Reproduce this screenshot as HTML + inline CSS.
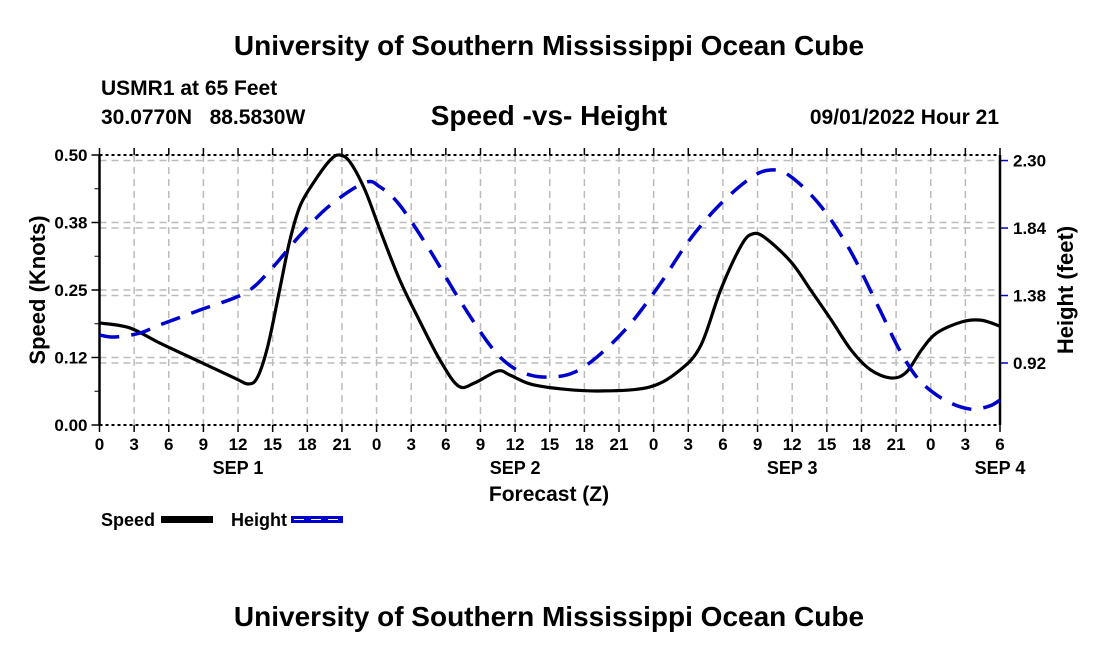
<!DOCTYPE html>
<html><head><meta charset="utf-8">
<style>
body{margin:0;background:#fff;width:1100px;height:650px;overflow:hidden;font-family:"Liberation Sans",Arial,sans-serif;}
svg text{font-family:"Liberation Sans",Arial,sans-serif;font-weight:bold;fill:#000;}
</style></head><body>
<svg id="chart" width="1100" height="650" xmlns="http://www.w3.org/2000/svg">
<text x="549" y="55" font-size="28" text-anchor="middle">University of Southern Mississippi Ocean Cube</text>
<text x="101" y="95" font-size="21">USMR1 at 65 Feet</text>
<text x="101" y="124" font-size="21">30.0770N&#160;&#160;&#160;88.5830W</text>
<text x="549" y="125" font-size="28" text-anchor="middle">Speed -vs- Height</text>
<text x="999" y="124" font-size="21" text-anchor="end">09/01/2022 Hour 21</text>
<g id="grid"></g>
<g id="axes"></g>
<g id="series"></g>
<text transform="translate(45,290) rotate(-90)" font-size="22" text-anchor="middle">Speed (Knots)</text>
<text transform="translate(1073,290) rotate(-90)" font-size="22" text-anchor="middle">Height (feet)</text>
<text x="549" y="501" font-size="21" text-anchor="middle">Forecast (Z)</text>
<g>
<text x="101" y="526" font-size="18">Speed</text>
<rect x="161" y="516" width="52" height="7" fill="#000"/>
</g>
<g>
<text x="231" y="526" font-size="18">Height</text>
<rect x="291" y="516" width="52" height="7" fill="#0000cc"/>
<line x1="291" y1="519.5" x2="343" y2="519.5" stroke="#fff" stroke-width="1" stroke-dasharray="10,7" stroke-dashoffset="-3"/>
</g>
<text x="549" y="626" font-size="28" text-anchor="middle">University of Southern Mississippi Ocean Cube</text>
</svg>
<script>
const speedHours=[0,2.6,5.2,8.7,11.7,12.9,13.7,14.6,15.6,16.5,17.4,18.7,20.0,20.8,21.7,23.0,24.3,26.0,27.7,29.5,31.1,32.5,34.5,35.5,37.3,39.9,43.3,47.6,50.3,52.1,53.8,55.6,56.6,57.7,59.9,61.6,63.4,65.1,66.8,68.6,69.9,71.2,72.5,74.7,76.4,78.0];
const speedValues=[0.189,0.180,0.152,0.117,0.087,0.076,0.089,0.148,0.250,0.343,0.407,0.454,0.491,0.500,0.487,0.435,0.361,0.269,0.194,0.120,0.072,0.078,0.100,0.093,0.076,0.067,0.063,0.070,0.102,0.148,0.250,0.333,0.354,0.346,0.302,0.250,0.194,0.139,0.102,0.087,0.098,0.139,0.170,0.191,0.194,0.183];
const heightHours=[0,1.3,3.5,5.2,8.7,12.6,14.8,17.4,20.0,23.0,24.3,26.0,28.6,31.2,33.8,35.5,37.3,39.3,41.2,43.3,45.9,48.5,51.1,53.7,56.4,58.1,59.8,62.4,65.0,67.6,69.3,71.0,73.2,75.4,77.1,78.0];
const heightValues=[1.111,1.097,1.124,1.179,1.281,1.397,1.554,1.793,1.997,2.150,2.120,1.997,1.690,1.349,1.043,0.906,0.838,0.825,0.859,0.975,1.179,1.452,1.758,1.997,2.181,2.236,2.195,1.997,1.690,1.281,1.009,0.804,0.668,0.606,0.627,0.668];
const xTickLabels=["0","3","6","9","12","15","18","21","0","3","6","9","12","15","18","21","0","3","6","9","12","15","18","21","0","3","6"];
const dayLabels=["SEP 1","SEP 2","SEP 3","SEP 4"];
const dayHours=[12,36,60,78];
const leftTicks=[0,0.125,0.25,0.375,0.5];
const leftTickLabels=["0.00","0.12","0.25","0.38","0.50"];
const rightTicks=[0.92,1.38,1.84,2.30];
const rightTickLabels=["0.92","1.38","1.84","2.30"];

const X0=99.5,X1=1000,YT=155,YB=425;
const xs=h=>X0+h*(X1-X0)/78;
const ys=v=>YB-v*(YB-YT)/0.5;
const yh=v=>363-(v-0.92)*146.7;
const NS="http://www.w3.org/2000/svg";
function mk(tag,attrs,parent){const e=document.createElementNS(NS,tag);for(const k in attrs)e.setAttribute(k,attrs[k]);parent.appendChild(e);return e;}
const grid=document.getElementById('grid'),axes=document.getElementById('axes'),series=document.getElementById('series');
xTickLabels.forEach((l,i)=>{const x=xs(i*3);
 if(i>0&&i<26){const g=mk('line',{x1:x,y1:YT,x2:x,y2:YB,stroke:'#bbb','stroke-width':1.5,'stroke-dasharray':'7,5'},grid);
 
 }
 const t1=mk('line',{x1:x,y1:YB,x2:x,y2:YB+7,stroke:'#000','stroke-width':1.5},axes);
 
 
 mk('line',{x1:x,y1:YT,x2:x,y2:YT-7,stroke:'#000','stroke-width':1.5},axes);
 const t=mk('text',{x:x,y:450,'font-size':17,'text-anchor':'middle'},axes);t.textContent=l;
 
 });
dayLabels.forEach((l,i)=>{const t=mk('text',{x:xs(dayHours[i]),y:474,'font-size':18,'text-anchor':'middle'},axes);t.textContent=l;
 
 });
leftTicks.forEach((v,i)=>{const y=ys(v);
 if(i>0&&i<4){const g=mk('line',{x1:X0,y1:y,x2:X1,y2:y,stroke:'#bbb','stroke-width':1.5,'stroke-dasharray':'7,5'},grid);
 
 }
 mk('line',{x1:X0-8,y1:y,x2:X0,y2:y,stroke:'#000','stroke-width':1.5},axes);
 const t=mk('text',{x:X0-12,y:y+6,'font-size':17,'text-anchor':'end'},axes);t.textContent=leftTickLabels[i];
 
 });
for(let v=0.0625;v<0.5;v+=0.125){mk('line',{x1:X0-5,y1:ys(v),x2:X0,y2:ys(v),stroke:'#000','stroke-width':1},axes);}
rightTicks.forEach((v,i)=>{const y=yh(v);
 const g=mk('line',{x1:X0,y1:y,x2:X1,y2:y,stroke:'#bbb','stroke-width':1.5,'stroke-dasharray':'7,5'},grid);
 
 
 mk('line',{x1:X1,y1:y,x2:X1+8,y2:y,stroke:'#0000cc','stroke-width':1.5},axes);
 const t=mk('text',{x:X1+13,y:y+6,'font-size':17},axes);t.textContent=rightTickLabels[i];
 
 });
mk('line',{x1:X0,y1:YT,x2:X1,y2:YT,stroke:'#000','stroke-width':2,'stroke-dasharray':'3,3'},axes);
mk('line',{x1:X0,y1:YB,x2:X1,y2:YB,stroke:'#000','stroke-width':2,'stroke-dasharray':'3,3'},axes);
mk('line',{x1:X0,y1:YT,x2:X0,y2:YB,stroke:'#000','stroke-width':2.5},axes);
mk('line',{x1:X1,y1:YT,x2:X1,y2:YB,stroke:'#000','stroke-width':2.5},axes);
function smooth(pts){let d=`M${pts[0][0]},${pts[0][1]}`;
 for(let i=0;i<pts.length-1;i++){const p0=pts[i-1]||pts[i],p1=pts[i],p2=pts[i+1],p3=pts[i+2]||p2;
 d+=` C${p1[0]+(p2[0]-p0[0])/6},${p1[1]+(p2[1]-p0[1])/6} ${p2[0]-(p3[0]-p1[0])/6},${p2[1]-(p3[1]-p1[1])/6} ${p2[0]},${p2[1]}`;}
 return d;}
const sp=mk('path',{d:smooth(speedHours.map((h,i)=>[xs(h),ys(speedValues[i])])),fill:'none',stroke:'#000','stroke-width':3.2},series);


const hp=mk('path',{d:smooth(heightHours.map((h,i)=>[xs(h),yh(heightValues[i])])),fill:'none',stroke:'#0000cc','stroke-width':3.5,'stroke-dasharray':'20,12'},series);


</script>
</body></html>
